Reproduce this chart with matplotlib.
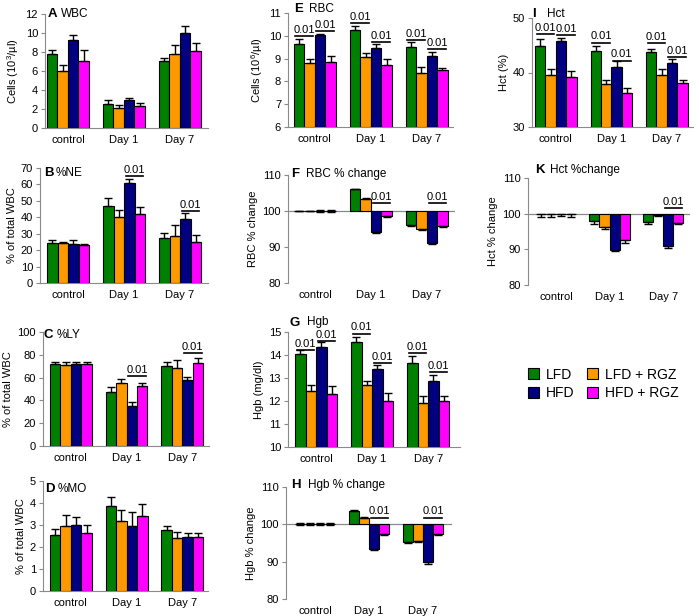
import matplotlib
matplotlib.use('Agg')
import matplotlib.pyplot as plt
from matplotlib.patches import Patch

plt.rcParams['font.family'] = ['Liberation Sans', 'DejaVu Sans']
plt.rcParams['mathtext.fontset'] = 'custom'
plt.rcParams['mathtext.rm'] = 'Liberation Sans'
plt.rcParams['mathtext.it'] = 'Liberation Sans:italic'
plt.rcParams['mathtext.default'] = 'regular'

categories = ['control', 'Day 1', 'Day 7']
groups = ['LFD', 'LFD + RGZ', 'HFD', 'HFD + RGZ']
colors = ['#008000', '#FF9900', '#000080', '#FF00FF']

# rows = categories, columns = groups (LFD, LFD+RGZ, HFD, HFD+RGZ)
wbc_mean = [[7.8, 6.0, 9.3, 7.1], [2.5, 2.1, 2.9, 2.35], [7.1, 7.8, 10.0, 8.1]]
wbc_err = [[0.4, 0.6, 0.5, 1.1], [0.5, 0.35, 0.3, 0.3], [0.3, 0.9, 0.7, 0.8]]

ne_mean = [[24.1, 24.1, 23.7, 22.9], [46.7, 40.2, 60.6, 42.2], [27.4, 28.8, 38.9, 24.7]]
ne_err = [[1.9, 1.1, 2.5, 1.0], [4.8, 4.2, 2.7, 4.0], [3.2, 6.7, 3.5, 4.3]]
ne_sig = [(1, 2, 3, 65.3), (2, 2, 3, 44.0)]

ly_mean = [[72.1, 70.7, 71.6, 72.1], [47.2, 55.1, 35.2, 52.2], [70.1, 68.6, 57.8, 72.7]]
ly_err = [[1.5, 2.6, 2.3, 1.8], [4.4, 3.8, 3.8, 3.5], [3.2, 6.8, 2.6, 4.1]]
ly_sig = [(1, 2, 3, 61.6), (2, 2, 3, 81.2)]

mo_mean = [[2.55, 2.97, 3.0, 2.62], [3.86, 3.2, 2.97, 3.41], [2.76, 2.39, 2.44, 2.44]]
mo_err = [[0.25, 0.47, 0.35, 0.38], [0.41, 0.47, 0.63, 0.53], [0.21, 0.28, 0.18, 0.18]]

rbc_mean = [[9.66, 8.82, 10.03, 8.85], [10.24, 9.08, 9.45, 8.73], [9.52, 8.38, 9.11, 8.5]]
rbc_err = [[0.18, 0.17, 0.07, 0.26], [0.18, 0.15, 0.18, 0.25], [0.2, 0.27, 0.17, 0.1]]
rbc_sig = [(0, 0, 1, 9.98), (0, 2, 3, 10.2), (1, 0, 1, 10.55), (1, 2, 3, 9.74),
           (2, 0, 1, 9.81), (2, 2, 3, 9.4)]

rbcchg_mean = [[100.0, 100.0, 100.0, 100.0], [106.0, 103.3, 94.3, 98.6], [96.0, 95.1, 91.0, 95.8]]
rbcchg_err = [[0.1, 0.1, 0.3, 0.35], [0.2, 0.2, 0.3, 0.3], [0.3, 0.3, 0.2, 0.3]]
rbcchg_sig = [(1, 2, 3, 102.3), (2, 2, 3, 102.3)]

hgb_mean = [[14.04, 12.45, 14.34, 12.29], [14.56, 12.71, 13.37, 11.98], [13.64, 11.9, 12.89, 11.98]]
hgb_err = [[0.19, 0.25, 0.21, 0.36], [0.22, 0.18, 0.19, 0.35], [0.3, 0.33, 0.23, 0.25]]
hgb_sig = [(0, 0, 1, 14.23), (0, 2, 3, 14.6), (1, 0, 1, 14.93), (1, 2, 3, 13.64),
           (2, 0, 1, 14.08), (2, 2, 3, 13.24)]

hgbchg_mean = [[100.0, 100.0, 100.0, 100.0], [103.5, 101.8, 93.3, 97.5], [95.2, 95.6, 89.8, 97.5]]
hgbchg_err = [[0.3, 0.3, 0.3, 0.3], [0.3, 0.2, 0.3, 0.3], [0.3, 0.4, 0.3, 0.3]]
hgbchg_sig = [(1, 2, 3, 101.8), (2, 2, 3, 101.8)]

hct_mean = [[44.9, 39.5, 45.8, 39.1], [43.9, 37.9, 41.1, 36.2], [43.8, 39.5, 41.7, 38.0]]
hct_err = [[1.3, 1.1, 0.6, 1.2], [1.0, 0.7, 1.1, 1.0], [0.5, 1.1, 0.7, 0.7]]
hct_sig = [(0, 0, 1, 47.1), (0, 2, 3, 46.9), (1, 0, 1, 45.5), (1, 2, 3, 42.2),
           (2, 0, 1, 45.4), (2, 2, 3, 42.8)]

hctchg_mean = [[99.9, 99.9, 99.9, 99.9], [97.9, 96.25, 89.9, 92.5], [97.65, 99.7, 90.8, 97.4]]
hctchg_err = [[0.9, 0.8, 0.5, 0.9], [0.7, 0.55, 0.5, 0.75], [0.45, 0.3, 0.4, 0.4]]
hctchg_sig = [(2, 2, 3, 101.7)]

W_PX, H_PX = 699, 616
fig = plt.figure(figsize=(W_PX / 100, H_PX / 100), dpi=100)
SPINE = '#8a8a8a'
BW = 0.1875


def make_axes(box):
    l, t, r, b = box
    return fig.add_axes([l / W_PX, 1 - b / H_PX, (r - l) / W_PX, (b - t) / H_PX])


def panel(box, xl, means, errs, ylim, yticks, ylabel, letter, title, lpos, tpos,
          sig=(), change=False):
    ax = make_axes(box)
    for gi in range(4):
        xs = [ci + (gi - 1.5) * BW for ci in range(3)]
        vals = [means[ci][gi] for ci in range(3)]
        es = [errs[ci][gi] for ci in range(3)]
        if change:
            heights = [v - 100 for v in vals]
            ax.bar(xs, heights, BW, bottom=100, color=colors[gi], edgecolor='black',
                   linewidth=0.8, zorder=3)
            lo = [e if v <= 100 else 0 for v, e in zip(vals, es)]
            hi = [e if v >= 100 else 0 for v, e in zip(vals, es)]
            ax.errorbar(xs, vals, yerr=[lo, hi], fmt='none', ecolor='black',
                        elinewidth=1, capsize=2.8, capthick=1, zorder=4)
        else:
            heights = [v - ylim[0] for v in vals]
            ax.bar(xs, heights, BW, bottom=ylim[0], color=colors[gi], edgecolor='black',
                   linewidth=0.8, zorder=3)
            ax.errorbar(xs, vals, yerr=[[0] * 3, es], fmt='none', ecolor='black',
                        elinewidth=1, capsize=2.8, capthick=1, zorder=4)
    for ci, a, b, y in sig:
        x1 = ci + (a - 1.5) * BW - 0.35 * BW
        x2 = ci + (b - 1.5) * BW + 0.35 * BW
        ax.plot([x1, x2], [y, y], color='black', lw=1.2, zorder=5)
        ax.text((x1 + x2) / 2, y + (ylim[1] - ylim[0]) * 0.01, '0.01', ha='center',
                va='bottom', fontsize=8)
    ax.set_xlim(*xl)
    ax.set_ylim(*ylim)
    ax.set_yticks(yticks)
    ax.set_xticks(range(3))
    ax.set_xticklabels(categories, fontsize=8)
    ax.tick_params(axis='x', length=0, pad=5)
    ax.tick_params(axis='y', labelsize=8, length=3, color=SPINE, pad=2)
    for s in ['top', 'right']:
        ax.spines[s].set_visible(False)
    ax.spines['left'].set_color(SPINE)
    if change:
        ax.spines['bottom'].set_visible(False)
        ax.axhline(100, color=SPINE, lw=0.9, zorder=2)
    else:
        ax.spines['bottom'].set_color(SPINE)
    ax.set_ylabel(ylabel, fontsize=8, labelpad=3)
    ax.patch.set_alpha(0)
    fig.text(lpos[0] / W_PX, 1 - lpos[1] / H_PX, letter, fontsize=9.5, fontweight='bold',
             ha='left', va='center')
    fig.text(tpos[0] / W_PX, 1 - tpos[1] / H_PX, title, fontsize=8.5, ha='left', va='center')
    return ax


panel((45, 14, 208, 128), (-0.41, 2.5), wbc_mean, wbc_err, (0, 12), range(0, 13, 2),
      'Cells (10$^{3}$/µl)', 'A', 'WBC', (48, 14), (61, 14))
panel((40, 168, 208, 283), (-0.5, 2.5), ne_mean, ne_err, (0, 70), range(0, 71, 10),
      '% of total WBC', 'B', '%NE', (44, 173), (56, 173), sig=ne_sig)
panel((43, 332, 209, 446), (-0.5, 2.48), ly_mean, ly_err, (0, 100), range(0, 101, 20),
      '% of total WBC', 'C', '%LY', (44, 335), (57, 335), sig=ly_sig)
panel((43, 481, 208, 591), (-0.5, 2.46), mo_mean, mo_err, (0, 5), range(0, 6),
      '% of total WBC', 'D', '%MO', (45, 489), (58, 489), sig=())
panel((288, 13, 453, 127), (-0.48, 2.47), rbc_mean, rbc_err, (6, 11), range(6, 12),
      'Cells (10$^{6}$/µl)', 'E', 'RBC', (294, 9), (309, 9), sig=rbc_sig)
panel((288, 175, 455, 283), (-0.48, 2.5), rbcchg_mean, rbcchg_err, (80, 110), range(80, 111, 10),
      'RBC % change', 'F', 'RBC % change', (291, 174), (306, 174), sig=rbcchg_sig, change=True)
panel((288, 332, 460, 447), (-0.5, 2.57), hgb_mean, hgb_err, (10, 15), range(10, 16),
      'Hgb (mg/dl)', 'G', 'Hgb', (289, 323), (307, 322), sig=hgb_sig)
panel((286, 487, 452, 599), (-0.54, 2.54), hgbchg_mean, hgbchg_err, (80, 110), range(80, 111, 10),
      'Hgb % change', 'H', 'Hgb % change', (291, 485), (308, 485), sig=hgbchg_sig, change=True)
panel((532, 18, 693, 127), (-0.43, 2.47), hct_mean, hct_err, (30, 50), [30, 40, 50],
      'Hct (%)', 'I', 'Hct', (532, 14), (547, 14), sig=hct_sig)
panel((528, 178, 690, 285), (-0.52, 2.5), hctchg_mean, hctchg_err, (80, 110), range(80, 111, 10),
      'Hct % change', 'K', 'Hct %change', (535, 170), (550, 170), sig=hctchg_sig, change=True)

order = [0, 2, 1, 3]
handles = [Patch(facecolor=colors[i], edgecolor='black', linewidth=0.8) for i in order]
labels = [groups[i] for i in order]
fig.legend(handles, labels, loc='center left', bbox_to_anchor=(522 / W_PX, 1 - 384 / H_PX),
           ncol=2, frameon=False, fontsize=10, handlelength=0.8, handleheight=0.8,
           handletextpad=0.5, columnspacing=0.9, labelspacing=0.35, borderaxespad=0)

fig.savefig('out.png', dpi=100)
